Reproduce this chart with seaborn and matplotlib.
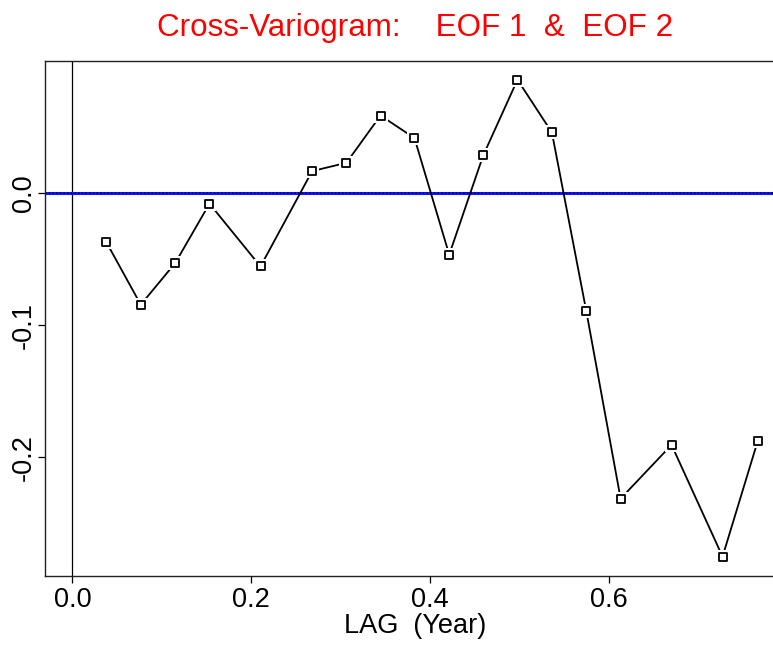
import matplotlib
matplotlib.use("Agg")
import matplotlib.pyplot as plt
import seaborn as sns
import pandas as pd

# Cross-variogram estimates between EOF 1 and EOF 2
lag_years = [0.0381, 0.0765, 0.1150, 0.1534, 0.2105, 0.2683, 0.3067, 0.3448, 0.3828,
             0.4217, 0.4597, 0.4981, 0.5366, 0.5750, 0.6135, 0.6705, 0.7276, 0.7668]
gamma = [-0.0375, -0.0846, -0.0532, -0.0083, -0.0557, 0.0163, 0.0226, 0.0583, 0.0413,
         -0.0468, 0.0281, 0.0853, 0.0455, -0.0891, -0.2311, -0.1905, -0.2749, -0.1879]
x_ticks = [0.0, 0.2, 0.4, 0.6]
y_ticks = [-0.2, -0.1, 0.0]

df = pd.DataFrame({"lag": lag_years, "gamma": gamma})

sns.set_theme(style="white")
plt.rcParams["font.family"] = ["Liberation Sans", "DejaVu Sans"]
plt.rcParams["text.color"] = "black"
plt.rcParams["xtick.color"] = "black"
plt.rcParams["ytick.color"] = "black"
plt.rcParams["axes.labelcolor"] = "black"

fig = plt.figure(figsize=(7.73, 6.5), dpi=100)
W, H = 773, 650
left, right, top, bottom = 45, 785, 60.7, 575.7
ax = fig.add_axes([left / W, 1 - bottom / H, (right - left) / W, (bottom - top) / H])

# limits: 4% padding around [0, max lag] and the data range
xmax = max(lag_years)
ax.set_xlim(-0.04 * xmax, xmax * 1.04)
yr = max(gamma) - min(gamma)
ax.set_ylim(min(gamma) - 0.04 * yr, max(gamma) + 0.04 * yr)

ax.axvline(0, color="black", lw=0.9, zorder=1)
ax.axhline(0, color="#1414ff", lw=2.2, zorder=1)
ax.axhline(0, color="#000090", lw=1.2, ls=(0, (1.0, 1.2)), zorder=1)

sns.lineplot(data=df, x="lag", y="gamma", color="black", lw=1.3, ax=ax,
             zorder=2, legend=False)
# white halo separates the connecting line from each point
sns.scatterplot(data=df, x="lag", y="gamma", marker="s", s=110, color="white",
                edgecolor="white", linewidth=0, ax=ax, zorder=3, legend=False)
sns.scatterplot(data=df, x="lag", y="gamma", marker="s", s=26, facecolor="white",
                edgecolor="black", linewidth=1.3, ax=ax, zorder=4, legend=False)

ax.set_xticks(x_ticks)
ax.set_xticklabels([f"{v:.1f}" for v in x_ticks], fontsize=19.5)
ax.set_yticks(y_ticks)
ax.set_yticklabels([f"{v:.1f}" for v in y_ticks], fontsize=19.5, rotation=90, va="center")
ax.tick_params(axis="both", direction="out", length=5, width=0.9, color="black",
               bottom=True, left=True)
ax.tick_params(axis="x", pad=3)
ax.tick_params(axis="y", pad=1)

for side in ["left", "bottom", "top"]:
    ax.spines[side].set_visible(True)
    ax.spines[side].set_color("#222222")
    ax.spines[side].set_linewidth(1.0)
ax.spines["right"].set_visible(False)

ax.set_xlabel("LAG  (Year)", fontsize=19.5, labelpad=0)
ax.set_ylabel("")
ax.set_title("Cross-Variogram:    EOF 1  &  EOF 2", color="red", fontsize=22.6, pad=18)

fig.savefig("out.png", dpi=100)
